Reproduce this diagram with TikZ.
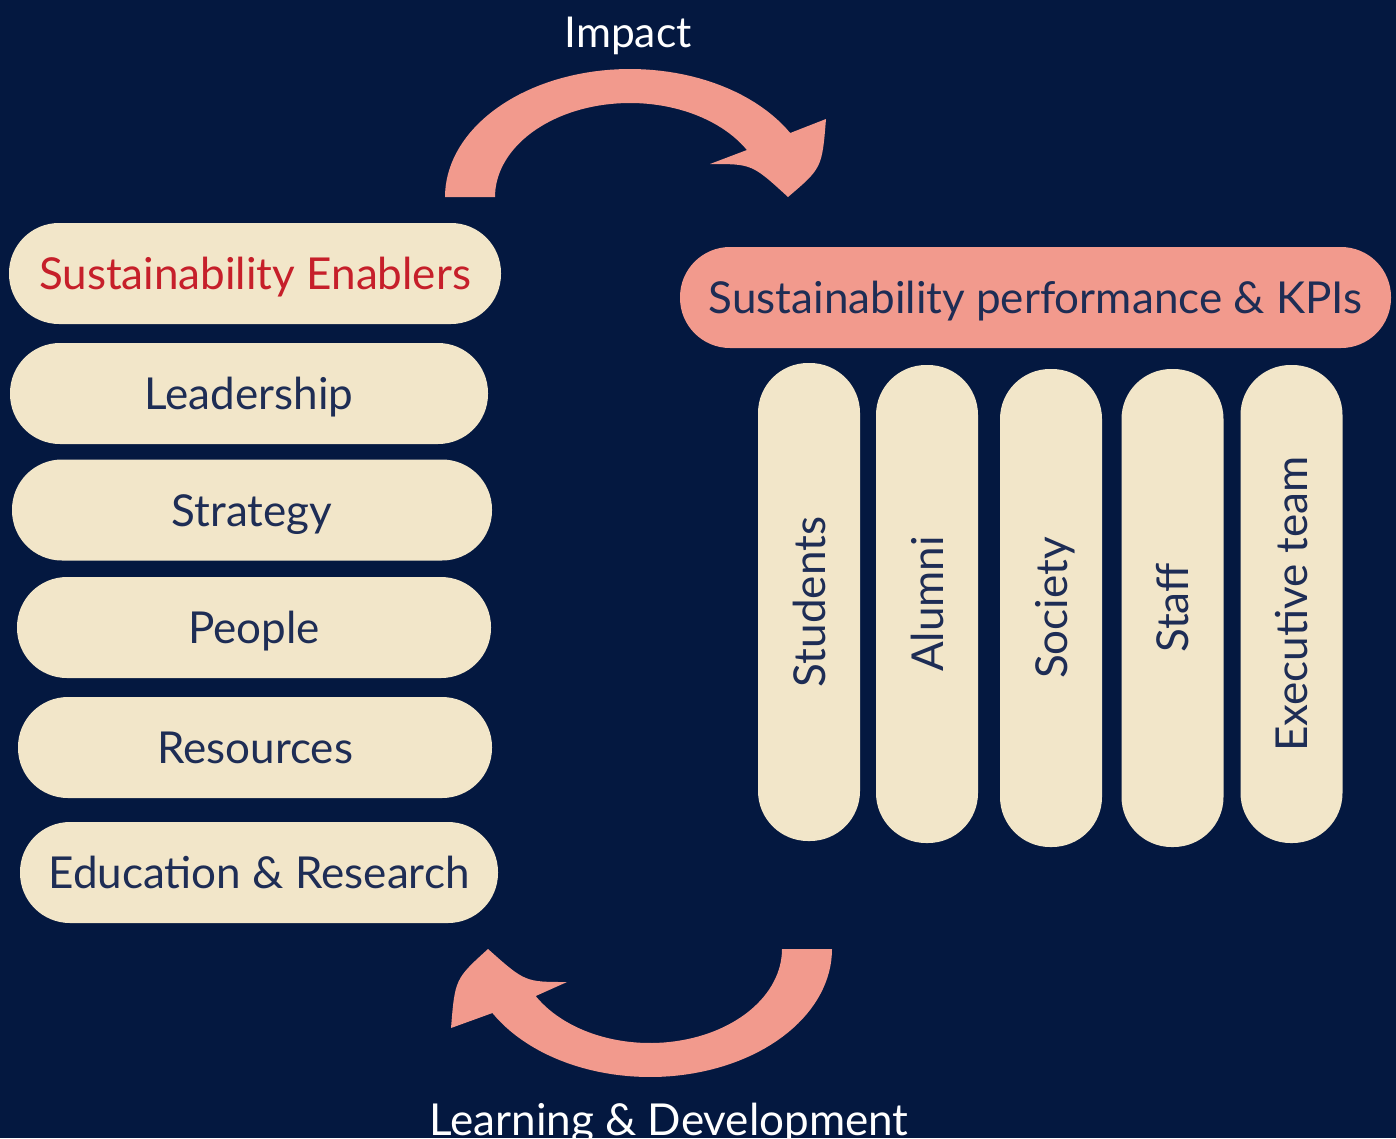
\documentclass[tikz,border=0pt]{standalone}
\usepackage{fontspec}
\setmainfont{Lato}
\definecolor{navy}{HTML}{041840}
\definecolor{cream}{HTML}{F2E6C9}
\definecolor{salmon}{HTML}{F29A8D}
\definecolor{inkblue}{HTML}{1E2D55}
\definecolor{enabred}{HTML}{C61F2A}
\def\pillh{101pt}
\def\pillr{50pt}
\def\colh{478pt}

\begin{document}
\begin{tikzpicture}[x=1pt,y=-1pt]
\tikzset{pill/.style={fill=cream,text=inkblue,rounded corners=\pillr,minimum height=\pillh,text height=32pt,text depth=0pt,inner sep=0pt,font=\fontsize{44}{53}\selectfont}}
\tikzset{col/.style={pill,rotate=90,minimum width=\colh,minimum height=102pt}}
\fill[navy] (0,0) rectangle (1396,1138);
\useasboundingbox (0,0) rectangle (1396,1138);
% enablers
\node[pill,minimum width=492pt,text=enabred] (en) at (255,273.5) {Sustainability Enablers};
\node[pill,minimum width=478pt] (lead) at (249,393.5) {Leadership};
\node[pill,minimum width=480pt] (strat) at (252,510) {Strategy};
\node[pill,minimum width=474pt] (people) at (254,627.5) {People};
\node[pill,minimum width=474pt] (res) at (255,747.5) {Resources};
\node[pill,minimum width=478pt] (edu) at (259,872.5) {Education \& Research};
% performance
\node[pill,fill=salmon,minimum width=711pt] (kpi) at (1035.5,297.5) {Sustainability performance \& KPIs};
\node[col] (stu) at (809,602) {Students};
\node[col] (alu) at (927,604) {Alumni};
\node[col] (soc) at (1051,608) {Society};
\node[col] (staff) at (1172.5,608) {Staff};
\node[col] (exec) at (1291.5,604) {Executive team};
% loop labels
\node[text=white,anchor=base,font=\fontsize{42.5}{51}\selectfont] (impact) at (628,47) {Impact};
\node[text=white,anchor=base,font=\fontsize{44}{53}\selectfont] (learn) at (669,1135) {Learning \& Development};
% impact arrow
\fill[salmon] plot[domain=180:30,samples=60] ({630+185*cos(\x)},{197-128*sin(\x)})
  -- (826,119) .. controls (822,168) .. (788,197) .. controls (752,164) .. (710,164)
  -- plot[domain=30:180,samples=60] ({630+135*cos(\x)},{197-94*sin(\x)}) -- cycle;
% learning arrow
\fill[salmon] plot[domain=0:150,samples=60] ({650+182*cos(\x)},{949+128*sin(\x)})
  -- (451,1028) .. controls (455,979) .. (488,949) .. controls (525,982) .. (567,982)
  -- plot[domain=150:0,samples=60] ({650+132*cos(\x)},{949+94*sin(\x)}) -- cycle;
\end{tikzpicture}
\end{document}
